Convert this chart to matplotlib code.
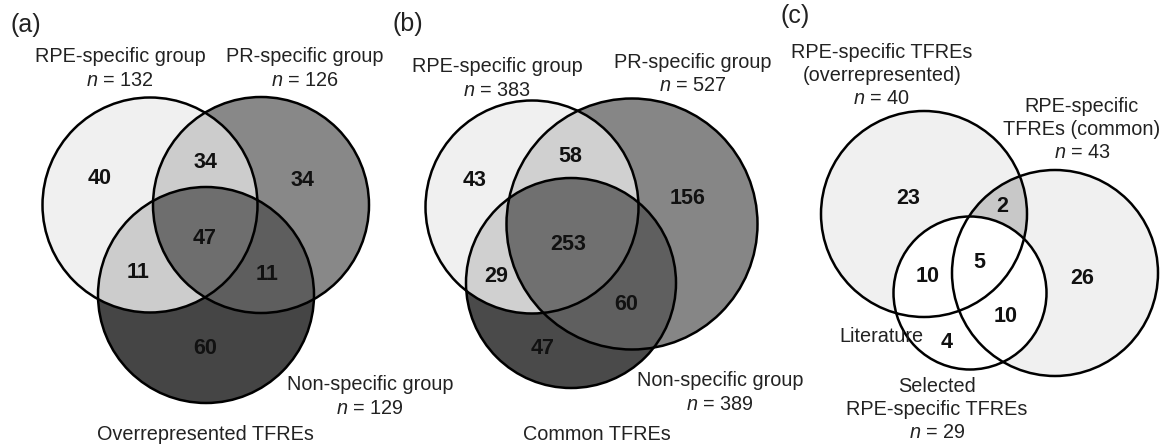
import numpy as np
import matplotlib
matplotlib.use("Agg")
import matplotlib.pyplot as plt
from matplotlib.patches import Circle
from matplotlib.colors import to_rgb

plt.rcParams['font.family'] = ['Liberation Sans', 'DejaVu Sans']
plt.rcParams['mathtext.fontset'] = 'custom'
plt.rcParams['mathtext.it'] = 'Liberation Sans:italic'
plt.rcParams['mathtext.rm'] = 'Liberation Sans'

# region order everywhere: A only, B only, C only, A&B, A&C, B&C, A&B&C
panel_tags = ["(a)", "(b)", "(c)"]
titles = ["Overrepresented TFREs", "Common TFREs", ""]
set_names = [
    ["RPE-specific group", "PR-specific group", "Non-specific group"],
    ["RPE-specific group", "PR-specific group", "Non-specific group"],
    ["RPE-specific TFREs\n(overrepresented)", "RPE-specific\nTFREs (common)",
     "Selected\nRPE-specific TFREs"],
]
set_sizes = [[132, 126, 129], [383, 527, 389], [40, 43, 29]]
region_counts = [
    [40, 34, 60, 34, 11, 11, 47],
    [43, 156, 47, 58, 29, 60, 253],
    [23, 26, 4, 2, 10, 10, 5],
]
extra_label = "Literature"

W, H = 1167, 447

# layout (pixel coordinates, y downwards)
circles = [
    [(150, 205, 107.5), (261, 205, 108), (206, 295, 108)],
    [(532, 207, 106.5), (632, 224, 125.5), (571, 283, 105)],
    [(924, 214, 103), (1055, 273, 103), (970, 293, 76.5)],
]
region_colors = [
    {1: '#f0f0f0', 2: '#888888', 4: '#454545', 3: '#cccccc', 5: '#cccccc', 6: '#5e5e5e', 7: '#6e6e6e'},
    {1: '#f0f0f0', 2: '#868686', 4: '#4a4a4a', 3: '#d0d0d0', 5: '#d0d0d0', 6: '#5f5f5f', 7: '#707070'},
    {1: '#f0f0f0', 2: '#f0f0f0', 4: '#ffffff', 3: '#c8c8c8', 5: '#ffffff', 6: '#ffffff', 7: '#ffffff'},
]
count_pos = [
    [(100, 178), (302, 180), (205, 349), (205, 162), (138, 272), (267, 274), (205, 238)],
    [(475, 180), (688, 199), (543, 348), (570, 157), (496, 276), (626, 304), (568, 245)],
    [(908, 198), (1082, 279), (947, 342), (1002, 207), (928, 276), (1006, 316), (979, 263)],
]
name_pos = [
    [(120, 57), (305, 57), (370, 385)],
    [(497, 67), (693, 62), (720, 381)],
    [(882, 52), (1082, 106), (937, 386)],
]
tag_pos = [(26, 25), (408, 24), (795, 16)]
title_pos = [(205, 435), (597, 435), None]
line_step = 23.5

fig = plt.figure(figsize=(W / 100, H / 100), dpi=100)
ax = fig.add_axes([0, 0, 1, 1])
ax.set_xlim(0, W)
ax.set_ylim(H, 0)
ax.axis('off')

# region fills as one raster
xx, yy = np.meshgrid(np.arange(W) + 0.5, np.arange(H) + 0.5)
img = np.ones((H, W, 3))
for p, circs in enumerate(circles):
    code = np.zeros((H, W), dtype=int)
    for bit, (cx, cy, r) in zip([1, 2, 4], circs):
        code += bit * (((xx - cx) ** 2 + (yy - cy) ** 2) <= r ** 2)
    for c, col in region_colors[p].items():
        img[code == c] = to_rgb(col)
ax.imshow(img, extent=(0, W, H, 0), interpolation='nearest', zorder=0)

for p in range(3):
    for cx, cy, r in circles[p]:
        ax.add_patch(Circle((cx, cy), r, fill=False, edgecolor='black', linewidth=1.8, zorder=2))
    for val, (x, y) in zip(region_counts[p], count_pos[p]):
        ax.text(x, y, str(val), ha='center', va='center', fontsize=15.5, fontweight='bold',
                color='#111111', zorder=3)
    for name, size, (x, y) in zip(set_names[p], set_sizes[p], name_pos[p]):
        lines = name.split("\n") + [f"$n$ = {size}"]
        for i, line in enumerate(lines):
            ax.text(x, y + i * line_step, line, ha='center', va='center', fontsize=14.3,
                    color='#222222', zorder=3)
    tx, ty = tag_pos[p]
    ax.text(tx, ty, panel_tags[p], ha='center', va='center', fontsize=18, color='#222222')
    if title_pos[p] is not None:
        ax.text(*title_pos[p], titles[p], ha='center', va='center', fontsize=14.3, color='#222222')

ax.text(881, 337, extra_label, ha='center', va='center', fontsize=14.3, color='#222222', zorder=3)

fig.savefig("out.png", dpi=100)
plt.close(fig)
